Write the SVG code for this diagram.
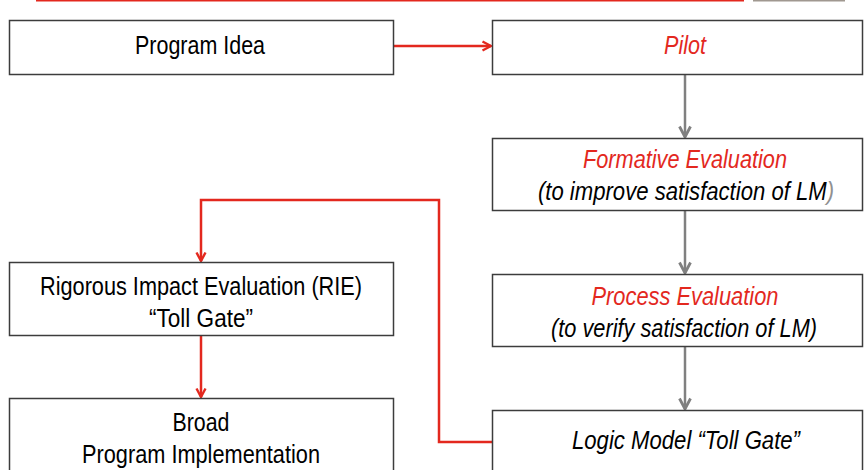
<svg xmlns="http://www.w3.org/2000/svg" width="864" height="470" viewBox="0 0 864 470">
<style>
.box{fill:#fff;stroke:#3c3c3c;stroke-width:1.5}
.t{font-family:"Liberation Sans",Arial,sans-serif;font-size:25px;text-anchor:middle;fill:#000}
.i{font-style:italic}
.r{fill:#e3281e}
.red{fill:none;stroke:#e3281e;stroke-width:2.5}
.gray{fill:none;stroke:#808080;stroke-width:2.5}
</style>
<defs>
<marker id="ar" viewBox="0 0 12 12" refX="11" refY="6" markerWidth="12" markerHeight="12" markerUnits="userSpaceOnUse" orient="auto">
<path d="M2.5,1.5 L11,6 L2.5,10.5" fill="none" stroke="#e3281e" stroke-width="2.4"/>
</marker>
<marker id="ag" viewBox="0 0 14 14" refX="13" refY="7" markerWidth="14" markerHeight="14" markerUnits="userSpaceOnUse" orient="auto">
<path d="M2.5,1.5 L13,7 L2.5,12.5" fill="none" stroke="#808080" stroke-width="2.8"/>
</marker>
</defs>
<rect width="864" height="470" fill="#fff"/>
<line x1="36" y1="0" x2="744" y2="0" stroke="#e3281e" stroke-width="3"/>
<line x1="753" y1="0.5" x2="845" y2="0.5" stroke="#a09890" stroke-width="2"/>
<g id="connectors">
<line class="red" x1="393" y1="46" x2="491" y2="46" marker-end="url(#ar)"/>
<line class="gray" x1="685" y1="75" x2="685" y2="137" marker-end="url(#ag)"/>
<line class="gray" x1="685" y1="211" x2="685" y2="273" marker-end="url(#ag)"/>
<line class="gray" x1="685" y1="347" x2="685" y2="409" marker-end="url(#ag)"/>
<polyline class="red" points="492,442 439,442 439,200 201,200 201,261" marker-end="url(#ar)"/>
<line class="red" x1="201" y1="336" x2="201" y2="397" marker-end="url(#ar)"/>
</g>
<g id="program-idea">
<rect class="box" x="9.5" y="20.5" width="384" height="54"/>
<text class="t" x="200" y="54" textLength="130" lengthAdjust="spacingAndGlyphs">Program Idea</text>
</g>
<g id="pilot">
<rect class="box" x="492.5" y="20.5" width="370" height="54"/>
<text class="t i r" x="685" y="54" textLength="42" lengthAdjust="spacingAndGlyphs">Pilot</text>
</g>
<g id="formative">
<rect class="box" x="492.5" y="138.5" width="370" height="72"/>
<text class="t i r" x="685" y="168" textLength="204" lengthAdjust="spacingAndGlyphs">Formative Evaluation</text>
<text class="t i" transform="translate(686,200) scale(0.885,1)" x="0" y="0">(to improve satisfaction of LM<tspan fill="#909090">)</tspan></text>
</g>
<g id="process">
<rect class="box" x="492.5" y="274.5" width="370" height="72"/>
<text class="t i r" x="685" y="305" textLength="187" lengthAdjust="spacingAndGlyphs">Process Evaluation</text>
<text class="t i" x="684" y="337" textLength="266" lengthAdjust="spacingAndGlyphs">(to verify satisfaction of LM)</text>
</g>
<g id="logic-model">
<rect class="box" x="492.5" y="410.5" width="370" height="72"/>
<text class="t i" x="686" y="449" textLength="228" lengthAdjust="spacingAndGlyphs">Logic Model “Toll Gate”</text>
</g>
<g id="rie">
<rect class="box" x="9.5" y="262.5" width="384" height="73"/>
<text class="t" x="201" y="295" textLength="322" lengthAdjust="spacingAndGlyphs">Rigorous Impact Evaluation (RIE)</text>
<text class="t" x="201" y="327" textLength="104" lengthAdjust="spacingAndGlyphs">“Toll Gate”</text>
</g>
<g id="broad">
<rect class="box" x="9.5" y="398.5" width="384" height="84"/>
<text class="t" x="201" y="431" textLength="57" lengthAdjust="spacingAndGlyphs">Broad</text>
<text class="t" x="201" y="463" textLength="238" lengthAdjust="spacingAndGlyphs">Program Implementation</text>
</g>
</svg>
